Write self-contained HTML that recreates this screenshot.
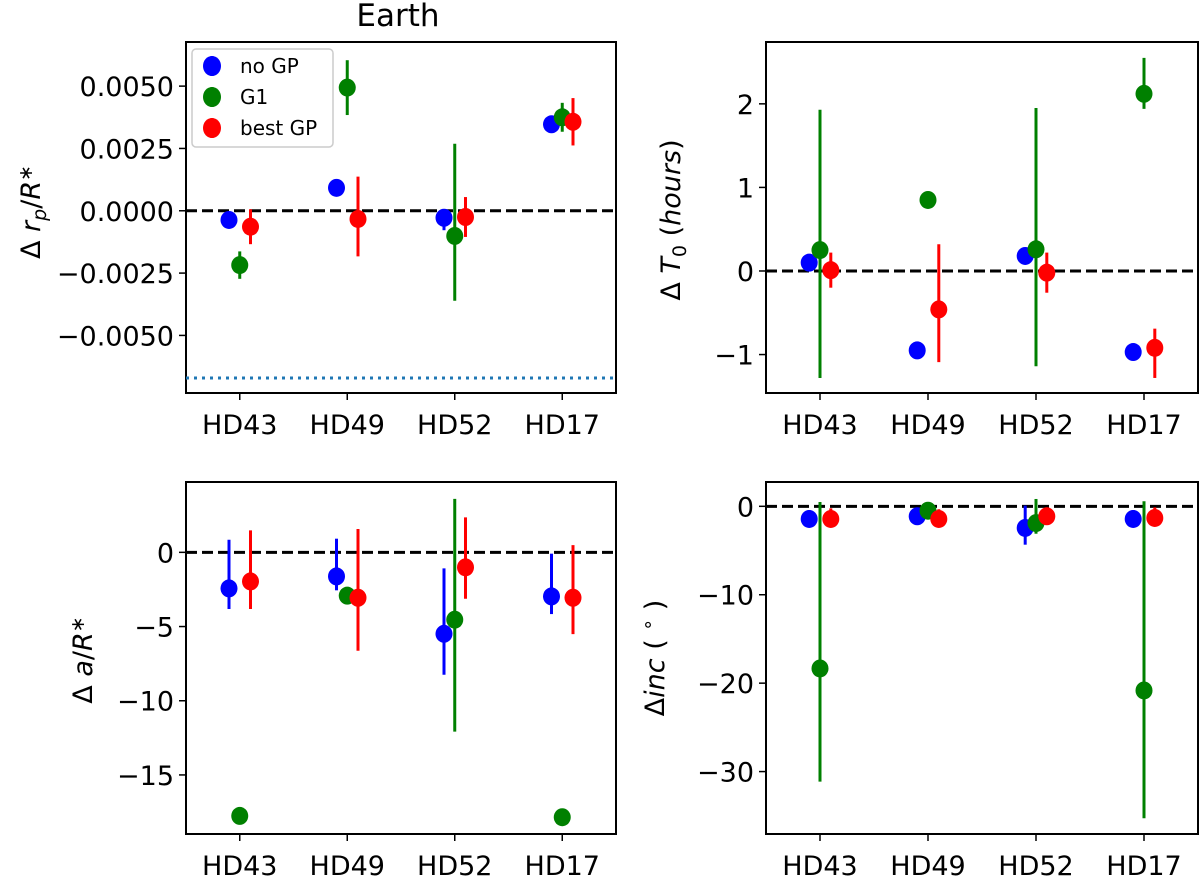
<!DOCTYPE html>
<html><head><meta charset="utf-8"><style>
html,body{margin:0;padding:0;background:#fff;}
svg{display:block;font-family:"DejaVu Sans","Liberation Sans",sans-serif;}
</style></head><body>
<svg id="fig" width="1200" height="880" viewBox="0 0 1200 880" xmlns="http://www.w3.org/2000/svg">
<text x="398" y="26" font-size="31" text-anchor="middle">Earth</text>
</svg>
<script>
const categories = ["HD43","HD49","HD52","HD17"];
const seriesNames = ["no GP","G1","best GP"];
// top-left: delta rp/R*
const rpBlue = [-0.00037,0.00092,-0.00028,0.00347];
const rpBlueMinus = [0.0002,0.0001,0.0005,0.0003], rpBluePlus = [0.0002,0.0001,0.0003,0.0003];
const rpGreen = [-0.00218,0.00494,-0.00101,0.00375];
const rpGreenMinus = [0.00055,0.0011,0.0026,0.00058], rpGreenPlus = [0.00055,0.0011,0.0037,0.00058];
const rpRed = [-0.00064,-0.00033,-0.00025,0.00357];
const rpRedMinus = [0.0007,0.0015,0.0008,0.00095], rpRedPlus = [0.0007,0.0017,0.0008,0.00095];
const rpTicks = [-0.005,-0.0025,0,0.0025,0.005];
const rpTickLabels = ["\u22120.0050","\u22120.0025","0.0000","0.0025","0.0050"];
const rpLimitLine = -0.00671;
// top-right: delta T0
const t0Blue = [0.10,-0.95,0.18,-0.97];
const t0BlueMinus = [0,0,0,0], t0BluePlus = [0,0,0,0];
const t0Green = [0.25,0.85,0.26,2.12];
const t0GreenMinus = [1.53,0,1.40,0.18], t0GreenPlus = [1.68,0,1.69,0.43];
const t0Red = [0.01,-0.46,-0.02,-0.92];
const t0RedMinus = [0.21,0.63,0.24,0.36], t0RedPlus = [0.21,0.78,0.24,0.23];
const t0Ticks = [-1,0,1,2];
const t0TickLabels = ["\u22121","0","1","2"];
// bottom-left: delta a/R*
const aBlue = [-2.43,-1.62,-5.49,-2.97];
const aBlueMinus = [1.39,0.94,2.76,1.19], aBluePlus = [3.28,2.54,4.41,2.88];
const aGreen = [-17.76,-2.92,-4.54,-17.85];
const aGreenMinus = [0,0,7.54,0], aGreenPlus = [0,0,8.14,0];
const aRed = [-1.96,-3.06,-1.01,-3.06];
const aRedMinus = [1.86,3.57,2.12,2.45], aRedPlus = [3.44,4.63,3.37,3.55];
const aTicks = [-15,-10,-5,0];
const aTickLabels = ["\u221215","\u221210","\u22125","0"];
// bottom-right: delta inc
const incBlue = [-1.43,-1.13,-2.45,-1.43];
const incBlueMinus = [0.8,0,1.89,0.8], incBluePlus = [1.0,0,2.53,1.0];
const incGreen = [-18.34,-0.5,-1.9,-20.83];
const incGreenMinus = [12.79,0,1.2,14.45], incGreenPlus = [18.83,0,2.73,21.4];
const incRed = [-1.43,-1.43,-1.13,-1.32];
const incRedMinus = [0.8,0.8,0.8,0.8], incRedPlus = [1.2,1.1,1.0,1.2];
const incTicks = [-30,-20,-10,0];
const incTickLabels = ["\u221230","\u221220","\u221210","0"];

const NS="http://www.w3.org/2000/svg";
const fig=document.getElementById('fig');
function mk(tag,attrs,parent){const e=document.createElementNS(NS,tag);for(const k in attrs)e.setAttribute(k,attrs[k]);(parent||fig).appendChild(e);return e;}
const colors=["#0000ff","#008000","#ff0000"];
const offsets=[-0.1,0,0.1];
const FS=27;

function panel(name,box,ymin,ymax,ticks,tickLabels,series,ylabelHTML,ylx,yly){
  const g=mk('g',{});
  
  
  const xs=v=>box.x0+(v+0.5)/4*(box.x1-box.x0);
  const ys=v=>box.y1-(v-ymin)/(ymax-ymin)*(box.y1-box.y0);
  ticks.forEach((t,i)=>{
    const y=ys(t);
    const tk=mk('line',{x1:box.x0-7,x2:box.x0,y1:y,y2:y,stroke:'#000','stroke-width':1.5},g);
    
    
    const tl=mk('text',{x:box.x0-12,y:y+10,'font-size':FS,'text-anchor':'end'},g);
    
    
    tl.textContent=tickLabels[i];
  });
  categories.forEach((c,i)=>{
    const x=xs(i);
    const tk=mk('line',{x1:x,x2:x,y1:box.y1,y2:box.y1+7,stroke:'#000','stroke-width':1.5},g);
    
    
    const tl=mk('text',{x:x,y:box.y1+41,'font-size':FS,'text-anchor':'middle'},g);
    
    
    tl.textContent=c;
  });
  const z=mk('line',{x1:box.x0,x2:box.x1,y1:ys(0),y2:ys(0),stroke:'#000','stroke-width':3,'stroke-dasharray':'11,5'},g);
  
  
  series.forEach((s,si)=>{
    s.vals.forEach((v,i)=>{
      const x=xs(i+offsets[si]);
      const lo=v-s.minus[i], hi=v+s.plus[i];
      if(s.minus[i]>0||s.plus[i]>0){
        const eb=mk('line',{x1:x,x2:x,y1:ys(lo),y2:ys(hi),stroke:colors[si],'stroke-width':3},g);
        
        
      }
      const p=mk('ellipse',{cx:x,cy:ys(v),rx:8.5,ry:9,fill:colors[si]},g);
      
      
    });
  });
  const fr=mk('rect',{x:box.x0,y:box.y0,width:box.x1-box.x0,height:box.y1-box.y0,fill:'none',stroke:'#000','stroke-width':2},g);
  
  
  const yl=mk('text',{x:0,y:0,'font-size':FS,'text-anchor':'middle',transform:`translate(${ylx},${yly}) rotate(-90)`},g);
  
  
  yl.innerHTML=ylabelHTML;
  return {g,xs,ys};
}

const tl=panel('panel-rp',{x0:186,x1:616,y0:42,y1:393},-0.00731,0.00677,rpTicks,rpTickLabels,
 [{vals:rpBlue,minus:rpBlueMinus,plus:rpBluePlus},{vals:rpGreen,minus:rpGreenMinus,plus:rpGreenPlus},{vals:rpRed,minus:rpRedMinus,plus:rpRedPlus}],
 '\u0394 <tspan font-style="italic">r</tspan><tspan font-style="italic" font-size="19" dy="6">p</tspan><tspan dy="-6">/</tspan><tspan font-style="italic">R</tspan><tspan font-size="19" dy="-8">\u2217</tspan>',40,212);
const dl=mk('line',{x1:186,x2:616,y1:tl.ys(rpLimitLine),y2:tl.ys(rpLimitLine),stroke:'#1f77b4','stroke-width':3,'stroke-dasharray':'3,5'});



panel('panel-t0',{x0:766,x1:1198,y0:42,y1:393},-1.46,2.74,t0Ticks,t0TickLabels,
 [{vals:t0Blue,minus:t0BlueMinus,plus:t0BluePlus},{vals:t0Green,minus:t0GreenMinus,plus:t0GreenPlus},{vals:t0Red,minus:t0RedMinus,plus:t0RedPlus}],
 '\u0394 <tspan font-style="italic">T</tspan><tspan font-size="19" dy="6">0</tspan><tspan dy="-6"> (</tspan><tspan font-style="italic">hours</tspan>)',680,220);

panel('panel-a',{x0:186,x1:616,y0:482,y1:834},-18.98,4.74,aTicks,aTickLabels,
 [{vals:aBlue,minus:aBlueMinus,plus:aBluePlus},{vals:aGreen,minus:aGreenMinus,plus:aGreenPlus},{vals:aRed,minus:aRedMinus,plus:aRedPlus}],
 '\u0394 <tspan font-style="italic">a</tspan>/<tspan font-style="italic">R</tspan><tspan font-size="19" dy="-8">\u2217</tspan>',92,660);

panel('panel-inc',{x0:766,x1:1198,y0:482,y1:834},-37.06,2.75,incTicks,incTickLabels,
 [{vals:incBlue,minus:incBlueMinus,plus:incBluePlus},{vals:incGreen,minus:incGreenMinus,plus:incGreenPlus},{vals:incRed,minus:incRedMinus,plus:incRedPlus}],
 '\u0394<tspan font-style="italic">inc</tspan> ( <tspan font-size="19" dy="-10">\u2218</tspan><tspan dy="10"> )</tspan>',664,658);

const lg=mk('g',{});


mk('rect',{x:192,y:49,width:141,height:98,rx:4,fill:'#fff','fill-opacity':0.8,stroke:'#ccc','stroke-width':1.5},lg);
seriesNames.forEach((n,i)=>{
  const y=66+i*31;
  const e=mk('g',{},lg);
  
  
  mk('line',{x1:212,x2:212,y1:y-10,y2:y+10,stroke:colors[i],'stroke-width':3},e);
  mk('ellipse',{cx:212,cy:y,rx:9,ry:10,fill:colors[i]},e);
  const t=mk('text',{x:240,y:y+7,'font-size':20},e);
  t.textContent=n;
});
</script>
</body></html>
